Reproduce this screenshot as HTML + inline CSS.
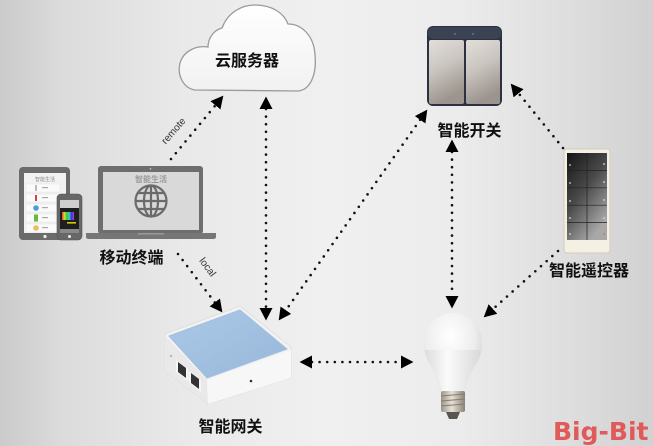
<!DOCTYPE html>
<html><head><meta charset="utf-8"><style>
html,body{margin:0;padding:0;}
body{width:653px;height:446px;overflow:hidden;background:linear-gradient(to right,#cbcbcb 0%,#dcdcdc 10%,#e9e9e9 28%,#f0f0f0 50%,#ececec 70%,#dddddd 88%,#d1d1d1 100%);}
svg{display:block;}
.lb{font-family:"Liberation Sans","Noto Sans CJK SC",sans-serif;font-weight:bold;font-size:16px;fill:#111;text-anchor:middle;}
.dl{fill:none;stroke:#111;stroke-width:2.6;stroke-dasharray:0 7.6;stroke-linecap:round;}
</style></head><body>
<svg width="653" height="446" viewBox="0 0 653 446" xmlns="http://www.w3.org/2000/svg">
<defs>
<marker id="ah" markerUnits="userSpaceOnUse" markerWidth="14" markerHeight="14" refX="0" refY="6.5" orient="auto-start-reverse" viewBox="0 0 14 14"><path d="M0,0 L12.5,6.5 L0,13 z" fill="#000"/></marker>
<linearGradient id="cloudg" x1="0" y1="0" x2="0" y2="1"><stop offset="0" stop-color="#ffffff"/><stop offset="1" stop-color="#f1f1f1"/></linearGradient>
<linearGradient id="btn" x1="0" y1="0" x2="0.3" y2="1"><stop offset="0" stop-color="#e2dfdb"/><stop offset="0.5" stop-color="#c9c4bf"/><stop offset="1" stop-color="#9c948d"/></linearGradient>
<linearGradient id="rem" x1="0" y1="0" x2="0.6" y2="1"><stop offset="0" stop-color="#151515"/><stop offset="0.5" stop-color="#4a4a4a"/><stop offset="1" stop-color="#a8a8a8"/></linearGradient>
<linearGradient id="gwtop" x1="0" y1="0" x2="1" y2="1"><stop offset="0" stop-color="#abc8e6"/><stop offset="1" stop-color="#98b8da"/></linearGradient>
<radialGradient id="bulbg" cx="0.45" cy="0.3" r="0.7"><stop offset="0" stop-color="#ffffff"/><stop offset="0.6" stop-color="#eeeeee"/><stop offset="1" stop-color="#cfcfcf"/></radialGradient>
<linearGradient id="bulbl" x1="0" y1="0" x2="1" y2="0"><stop offset="0" stop-color="#dcdcdc"/><stop offset="0.4" stop-color="#fafafa"/><stop offset="1" stop-color="#d8d8d8"/></linearGradient>
<linearGradient id="screw" x1="0" y1="0" x2="1" y2="0"><stop offset="0" stop-color="#9c9488"/><stop offset="0.45" stop-color="#e6e0d6"/><stop offset="1" stop-color="#8a8276"/></linearGradient>
<linearGradient id="rainbow" x1="0" y1="0" x2="1" y2="0"><stop offset="0" stop-color="#e33"/><stop offset="0.2" stop-color="#dd3"/><stop offset="0.4" stop-color="#3c3"/><stop offset="0.6" stop-color="#3cc"/><stop offset="0.8" stop-color="#33d"/><stop offset="1" stop-color="#c3c"/></linearGradient>
</defs>

<!-- Cloud -->
<path d="M195,90 C183,88 177,75 180,63 C183,52 195,45 208,47 C208,38 214,30 222,28 C228,12 242,5 255,5 C272,5 284,13 288,24 C302,24 314,36 315,55 C317,75 310,90 298,91 Z" fill="url(#cloudg)" stroke="#9a9a9a" stroke-width="1.3"/>
<text class="lb" x="247" y="66" font-size="17">云服务器</text>

<!-- Switch -->
<rect x="427" y="26" width="75" height="80" rx="6" fill="#2b3141"/>
<rect x="428" y="27" width="73" height="12" rx="5" fill="#3a4254"/>
<circle cx="455" cy="34" r="0.8" fill="#8892a8"/><circle cx="473" cy="34" r="0.8" fill="#8892a8"/>
<rect x="429" y="40" width="35" height="64" rx="2" fill="url(#btn)"/>
<rect x="466" y="40" width="34" height="64" rx="2" fill="url(#btn)"/>
<text class="lb" x="469.5" y="136">智能开关</text>

<!-- Remote -->
<rect x="564" y="149" width="46" height="104" rx="3" fill="#f4f0e4" stroke="#d4ccbb" stroke-width="1"/>
<rect x="567" y="153" width="40" height="87" fill="url(#rem)"/>
<g stroke="#222" stroke-width="0.7">
<line x1="587" y1="153" x2="587" y2="240"/>
<line x1="567" y1="170.4" x2="607" y2="170.4"/><line x1="567" y1="187.8" x2="607" y2="187.8"/><line x1="567" y1="205.2" x2="607" y2="205.2"/><line x1="567" y1="222.6" x2="607" y2="222.6"/>
</g>
<g fill="#ddd">
<circle cx="570" cy="165" r="0.9"/><circle cx="604" cy="164" r="0.9"/><circle cx="570" cy="183" r="0.9"/><circle cx="604" cy="182" r="0.9"/><circle cx="570" cy="201" r="0.9"/><circle cx="604" cy="200" r="0.9"/><circle cx="570" cy="218" r="0.9"/><circle cx="604" cy="218" r="0.9"/><circle cx="570" cy="234" r="0.9"/><circle cx="604" cy="234" r="0.9" fill="#d66"/>
</g>
<text class="lb" x="589" y="276">智能遥控器</text>

<!-- Tablet -->
<rect x="19" y="167" width="51" height="73" rx="4" fill="#6b6b6b"/>
<rect x="24" y="173" width="42" height="60" fill="#f2f2f2"/>
<text x="45" y="181" font-family="Liberation Sans,'Noto Sans CJK SC',sans-serif" font-size="5" fill="#888" text-anchor="middle">智能生活</text>
<g fill="#fafafa" stroke="#e0e0e0" stroke-width="0.4">
<rect x="26" y="184" width="34" height="8"/><rect x="26" y="194" width="34" height="8"/><rect x="26" y="204" width="34" height="8"/><rect x="26" y="214" width="34" height="8"/><rect x="26" y="224" width="34" height="8"/>
</g>
<rect x="35" y="185" width="2" height="6" fill="#bbb"/>
<rect x="35" y="195" width="2" height="6" fill="#c44"/>
<circle cx="36" cy="208" r="2.8" fill="#4a9ed8"/>
<rect x="34" y="214.5" width="4" height="7" fill="#6b3"/>
<circle cx="36" cy="228" r="2.8" fill="#e8c060"/>
<g fill="#aaa"><rect x="42" y="187" width="6" height="1.2"/><rect x="42" y="197" width="6" height="1.2"/><rect x="42" y="207" width="6" height="1.2"/><rect x="42" y="217" width="6" height="1.2"/><rect x="42" y="227" width="6" height="1.2"/></g>
<circle cx="45" cy="236.5" r="1.6" fill="#eee"/>

<!-- Phone -->
<rect x="57" y="194" width="25" height="46" rx="4" fill="#676767" stroke="#555" stroke-width="0.6"/>
<rect x="60" y="200" width="19" height="33" fill="#cfcfcf"/>
<rect x="60" y="208" width="19" height="21" fill="#1e1e1e"/>
<rect x="62" y="212" width="12" height="8" fill="url(#rainbow)"/>
<rect x="67" y="222" width="9" height="1.6" fill="#d8c800"/>
<rect x="60" y="229" width="19" height="4" fill="#888"/>
<circle cx="69.5" cy="236.5" r="1.5" fill="#eee"/>

<!-- Laptop -->
<rect x="98" y="166" width="105" height="68" rx="3" fill="#6e6e6e"/>
<rect x="103" y="172" width="96" height="58" fill="#d9d9d9"/>
<circle cx="150.5" cy="168.8" r="0.8" fill="#ccc"/>
<path d="M86,233 L216,233 L216,237 Q216,239 213,239 L89,239 Q86,239 86,237 Z" fill="#767676"/>
<rect x="138" y="233" width="26" height="1.5" fill="#999"/>
<text x="151" y="182" font-family="Liberation Sans,'Noto Sans CJK SC',sans-serif" font-size="8" font-weight="bold" fill="#9a9a9a" text-anchor="middle">智能生活</text>
<g fill="none" stroke="#6a6a6a" stroke-width="2.2">
<circle cx="151" cy="201" r="15.5"/>
<ellipse cx="151" cy="201" rx="7" ry="15.5"/>
<line x1="151" y1="185.5" x2="151" y2="216.5"/>
<line x1="135.5" y1="201" x2="166.5" y2="201"/>
<line x1="138" y1="193" x2="164" y2="193"/>
<line x1="138" y1="209" x2="164" y2="209"/>
</g>
<text class="lb" x="131.5" y="263">移动终端</text>

<!-- Gateway -->
<path d="M165,334 L240,306 L291,347 L291,378 L208,404 L165,371 Z" fill="#f2f2f2" stroke="#dcdcdc" stroke-width="0.8" stroke-linejoin="round"/>
<path d="M165,336 L207,380 L208,404 L165,371 Z" fill="#e9e9e9"/>
<path d="M207,380 L291,350 L291,378 L208,404 Z" fill="#f7f7f7"/>
<path d="M169,336 L240,310 L287,349 L207,378 Z" fill="url(#gwtop)" stroke="#a3bfdc" stroke-width="1" stroke-linejoin="round"/>
<path d="M176,360 L188,369 L188,381 L176,372 Z" fill="#f6f6f6"/>
<path d="M178,362 L186,368 L186,378 L178,372 Z" fill="#333"/>
<path d="M189,371 L201,380 L201,392 L189,383 Z" fill="#f6f6f6"/>
<path d="M191,373 L199,379 L199,389 L191,383 Z" fill="#333"/>
<circle cx="171" cy="356" r="1.3" fill="#bbb"/>
<circle cx="251" cy="381" r="1.3" fill="#333"/>
<text class="lb" x="230.5" y="432">智能网关</text>

<!-- Bulb -->
<path d="M424,342 A29,29 0 1 1 482,342 C482,362 467,372 465,391 L441,391 C439,372 424,362 424,342 Z" fill="url(#bulbg)"/>
<path d="M424.5,350 L481.5,350 C479,366 466,374 465,391 L441,391 C440,374 427,366 424.5,350 Z" fill="url(#bulbl)"/>
<rect x="441" y="391" width="24" height="21" rx="2" fill="url(#screw)"/>
<g stroke="#857c70" stroke-width="1"><line x1="441" y1="396" x2="465" y2="394"/><line x1="441" y1="401" x2="465" y2="399"/><line x1="441" y1="406" x2="465" y2="404"/></g>
<path d="M446,412 L460,412 L457,419 L449,419 Z" fill="#5a554f"/>

<!-- Connectors -->
<line class="dl" x1="171" y1="159" x2="215.4" y2="105.3" marker-end="url(#ah)"/>
<line class="dl" x1="266" y1="109" x2="266" y2="308" marker-start="url(#ah)" marker-end="url(#ah)"/>
<line class="dl" x1="420.1" y1="119.8" x2="285.9" y2="310.2" marker-start="url(#ah)" marker-end="url(#ah)"/>
<line class="dl" x1="452" y1="152" x2="452" y2="296" marker-start="url(#ah)" marker-end="url(#ah)"/>
<line class="dl" x1="563" y1="148" x2="518.6" y2="93.3" marker-end="url(#ah)"/>
<line class="dl" x1="558" y1="251" x2="493" y2="309" marker-end="url(#ah)"/>
<line class="dl" x1="178" y1="254" x2="214.8" y2="302.4" marker-end="url(#ah)"/>
<line class="dl" x1="312" y1="362" x2="401" y2="362" marker-start="url(#ah)" marker-end="url(#ah)"/>

<text x="0" y="0" font-family="Liberation Sans,sans-serif" font-size="10" fill="#333" text-anchor="middle" transform="translate(176,133) rotate(-49)">remote</text>
<text x="0" y="0" font-family="Liberation Sans,sans-serif" font-size="10" fill="#333" text-anchor="middle" transform="translate(205,269) rotate(53)">local</text>

<!-- Logo -->
<text x="553" y="440" font-family="DejaVu Sans,sans-serif" font-weight="bold" font-size="25" fill="#e05a5a">Big-Bit</text>
</svg>
</body></html>
